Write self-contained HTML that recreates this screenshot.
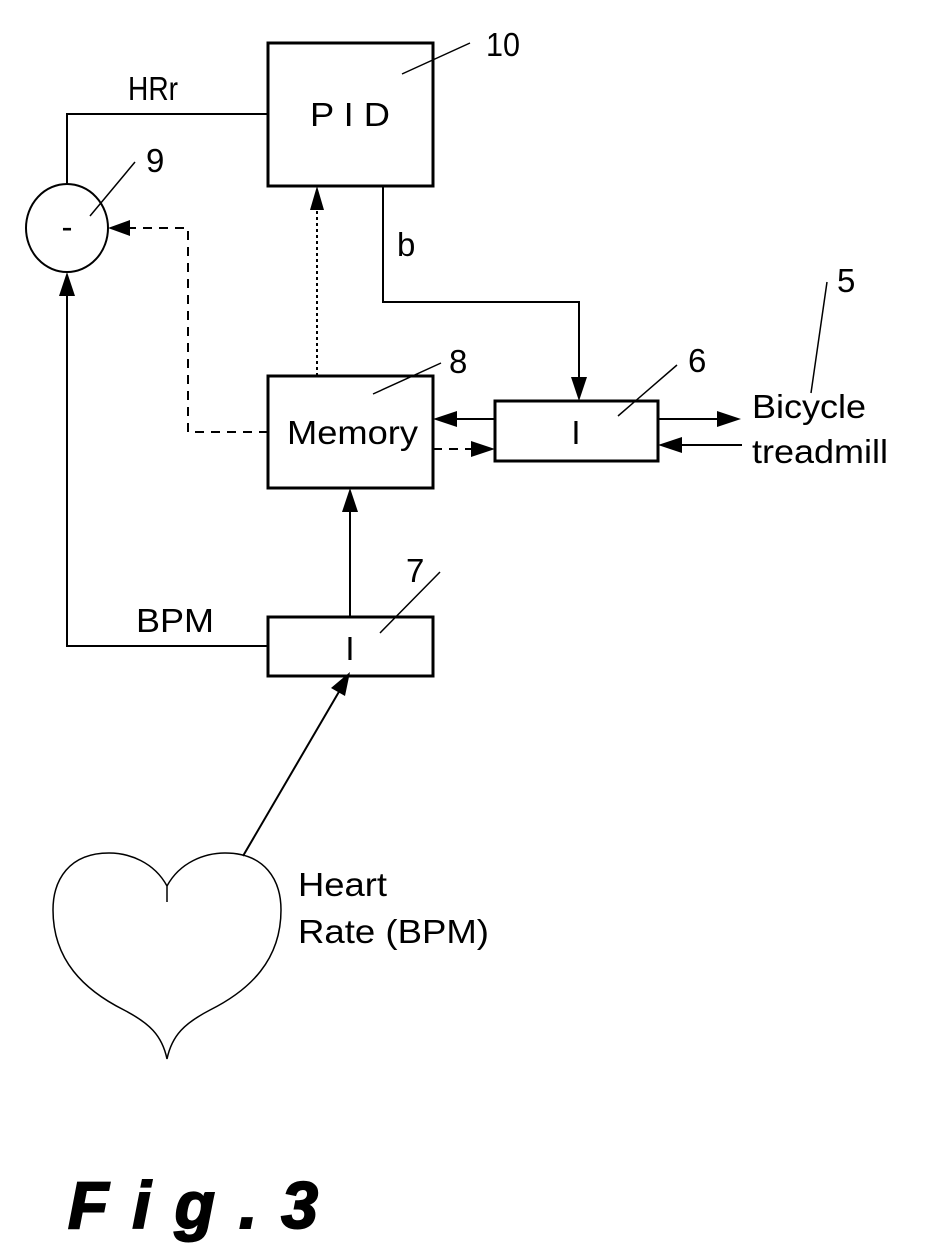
<!DOCTYPE html>
<html><head><style>body{margin:0;background:#fff}svg{display:block}text{font-family:"Liberation Sans",Arial,sans-serif;fill:#000}</style></head><body>
<svg width="928" height="1254" viewBox="0 0 928 1254" xmlns="http://www.w3.org/2000/svg">
<g fill="none" stroke="#000" stroke-width="2">
<rect x="268" y="43" width="165" height="143" stroke-width="3"/>
<ellipse cx="67" cy="228" rx="41" ry="44"/>
<rect x="268" y="376" width="165" height="112" stroke-width="3"/>
<rect x="495" y="401" width="163" height="60" stroke-width="3"/>
<rect x="268" y="617" width="165" height="59" stroke-width="3"/>
<path d="M268,114H67V184"/>
<path d="M383,186V302H579V385"/>
<path d="M317,376V210" stroke-dasharray="3,3"/>
<path d="M268,432H188V228H124" stroke-dasharray="9,7"/>
<path d="M495,419H448"/>
<path d="M433,449H480" stroke-dasharray="9,7"/>
<path d="M658,419H725"/>
<path d="M742,445H675"/>
<path d="M350,617V504"/>
<path d="M268,646H67V286"/>
<path d="M243,856L340,690"/>
<path d="M167,902V886C180,862 205,853 225,853C265,853 281,880 281,910C281,960 250,990 210,1010C185,1023 172,1035 167,1059C162,1035 149,1023 124,1010C84,990 53,960 53,910C53,880 69,853 109,853C129,853 154,862 167,886" stroke-width="1.5"/>
<path d="M402,74L470,43M90,216L135,162M373,394L441,363M618,416L677,365M811,393L827,282M380,633L440,572" stroke-width="1.5"/>
</g>
<g>
<path d="M317,186l-7,24h14z"/><path d="M108,228l22,-8v16z"/><path d="M579,401l-8,-24h16z"/>
<path d="M433,419l24,-8v16z"/><path d="M495,449l-24,-8v16z"/><path d="M741,419l-24,-8v16z"/><path d="M658,445l24,-8v16z"/>
<path d="M350,488l-8,24h16z"/><path d="M67,272l-8,24h16z"/><path d="M350,672l-5,24l-14,-8z"/>
</g>
<g font-size="33">
<text x="310" y="126" textLength="80" lengthAdjust="spacingAndGlyphs">P I D</text>
<text x="486" y="56" textLength="34" lengthAdjust="spacingAndGlyphs">10</text>
<text x="128" y="100" textLength="50" lengthAdjust="spacingAndGlyphs">HRr</text>
<text x="146" y="172">9</text>
<text x="67" y="238" text-anchor="middle">-</text>
<text x="397" y="256">b</text>
<text x="837" y="292">5</text>
<text x="449" y="373">8</text>
<text x="688" y="372">6</text>
<text x="287" y="444" textLength="131" lengthAdjust="spacingAndGlyphs">Memory</text>
<text x="576" y="444" text-anchor="middle" font-family="Liberation Mono">I</text>
<text x="752" y="418" textLength="114" lengthAdjust="spacingAndGlyphs">Bicycle</text>
<text x="752" y="463" textLength="136" lengthAdjust="spacingAndGlyphs">treadmill</text>
<text x="406" y="582">7</text>
<text x="136" y="632" textLength="78" lengthAdjust="spacingAndGlyphs">BPM</text>
<text x="350" y="660" text-anchor="middle" font-family="Liberation Mono">I</text>
<text x="298" y="896" textLength="89" lengthAdjust="spacingAndGlyphs">Heart</text>
<text x="298" y="943" textLength="191" lengthAdjust="spacingAndGlyphs">Rate (BPM)</text>
</g>
<text x="68" y="1228" font-size="66" font-weight="bold" font-style="italic" textLength="250" lengthAdjust="spacing" stroke="#000" stroke-width="2">Fig.3</text>
</svg>
</body></html>
